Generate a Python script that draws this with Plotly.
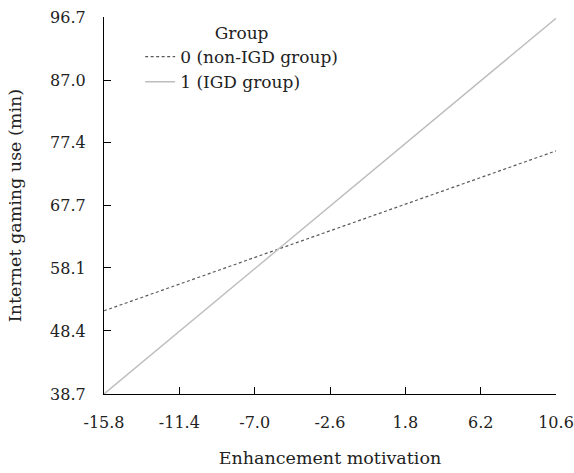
import plotly.graph_objects as go

x_vals = [-15.8, 10.6]
non_igd = [51.5, 76.1]
igd = [38.7, 96.5]
x_ticks = [-15.8, -11.4, -7.0, -2.6, 1.8, 6.2, 10.6]
y_ticks = [38.7, 48.4, 58.1, 67.7, 77.4, 87.0, 96.7]

font = "DejaVu Serif"
fig = go.Figure()
fig.add_trace(go.Scatter(x=x_vals, y=non_igd, mode="lines", name="0 (non-IGD group)",
                         line=dict(color="#5a5a5a", width=1.2, dash="3px,2.5px")))
fig.add_trace(go.Scatter(x=x_vals, y=igd, mode="lines", name="1 (IGD group)",
                         line=dict(color="#bdbdbd", width=1.4)))

fig.update_layout(
    width=574, height=473,
    margin=dict(l=104, r=18, t=17, b=79),
    paper_bgcolor="white", plot_bgcolor="white",
    font=dict(family=font, size=16, color="#222222"),
    legend=dict(x=0.08, y=1.0, xanchor="left", yanchor="top",
                title=dict(text="Group", side="top center", font=dict(size=17)),
                font=dict(size=17), bgcolor="rgba(0,0,0,0)", tracegroupgap=0),
    xaxis=dict(range=[-15.8, 10.6], tickvals=x_ticks, ticktext=[f"{v:.1f}" for v in x_ticks],
               showgrid=False, zeroline=False, showline=True, linecolor="black", linewidth=1.3,
               ticks="inside", ticklen=7, tickcolor="black", tickwidth=1.3, ticklabelstandoff=14,
               automargin=False,
               title=dict(text="Enhancement motivation", font=dict(size=17.5), standoff=20)),
    yaxis=dict(range=[38.7, 96.7], tickvals=y_ticks, ticktext=[f"{v:.1f}" for v in y_ticks],
               showgrid=False, zeroline=False, showline=True, linecolor="black", linewidth=1.3,
               ticks="inside", ticklen=7, tickcolor="black", tickwidth=1.3, ticklabelstandoff=14,
               automargin=False,
               title=dict(text="Internet gaming use (min)", font=dict(size=17.5), standoff=23)),
)
fig.write_html("out.html", config={"displayModeBar": False},
               post_script="document.body.style.margin='0';")
